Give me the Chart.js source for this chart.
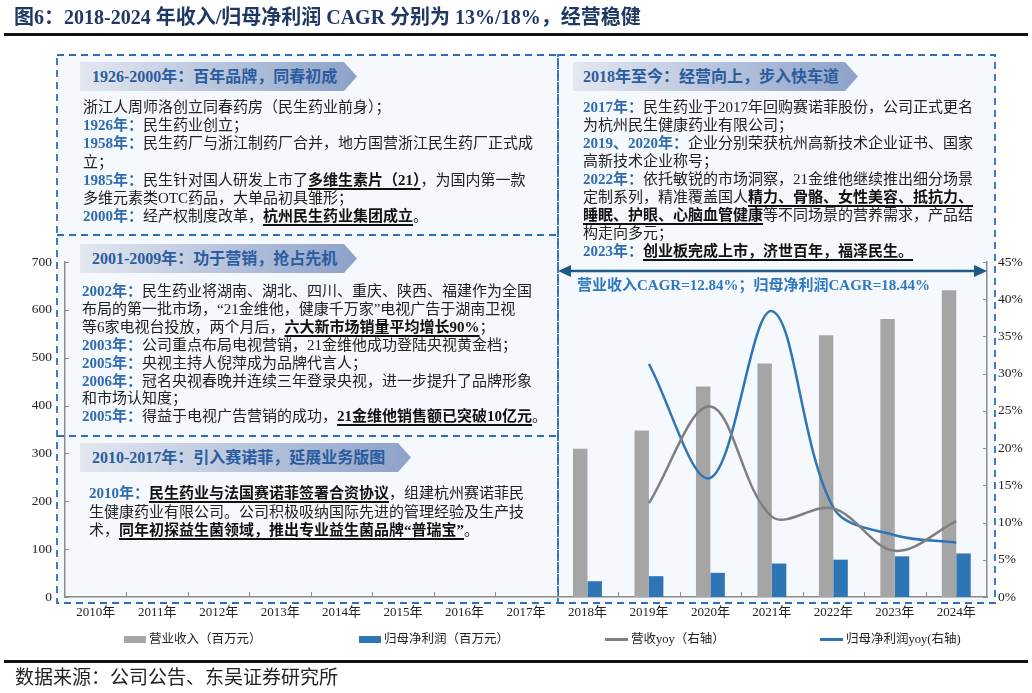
<!DOCTYPE html>
<html>
<head>
<meta charset="utf-8">
<script src="https://cdn.jsdelivr.net/npm/chart.js@4.4.1/dist/chart.umd.min.js"></script>
<style>
  body { margin: 0; background: #fff; width: 1032px; height: 693px; position: relative; overflow: hidden;
         font-family: "Liberation Serif", "Noto Sans CJK SC", serif; color: #222; }
  #boxes, #chart, #over { position: absolute; left: 0; top: 0; }
  #chart { z-index: 1; }
  #boxes { z-index: 0; }
  #over { z-index: 2; pointer-events: none; }
  .title { position: absolute; left: 14px; top: 4px; font-size: 20px; font-weight: bold; color: #1f3864;
           white-space: nowrap; line-height: 26px; z-index: 2; }
  .rule { position: absolute; left: 4px; width: 1024px; height: 3px; background: #111; z-index: 2; }
  .banner { position: absolute; height: 29px; line-height: 29px; z-index: 2;
            background: linear-gradient(90deg, #e3e7f0, #8da2c9);
            clip-path: polygon(0 0, calc(100% - 13px) 0, 100% 50%, calc(100% - 13px) 100%, 0 100%);
            color: #2a5c9e; font-weight: bold; font-size: 16px; padding-left: 12px; box-sizing: border-box; white-space: nowrap; }
  .txt { position: absolute; font-size: 15px; line-height: 18.2px; white-space: nowrap; color: #222; z-index: 2; }
  .txt b { color: #2e6bb0; }
  .txt u { font-weight: bold; color: #111; text-decoration-thickness: 1.5px; text-underline-offset: 3px; }
  .cagr { position: absolute; left: 577px; top: 276px; font-size: 15px; font-weight: bold; color: #2f78be;
          white-space: nowrap; line-height: 18px; z-index: 2; }
  .leg { position: absolute; top: 631px; height: 16px; line-height: 16px; font-size: 12.5px; white-space: nowrap; z-index: 2; color: #222; }
  .leg i { display: inline-block; vertical-align: middle; margin-right: 3px; position: relative; top: -1px; }
  .source { position: absolute; left: 15px; top: 666px; font-size: 19px; line-height: 24px; white-space: nowrap; color: #222; z-index: 2; }
</style>
</head>
<body>

<svg id="boxes" width="1032" height="693">
  <rect x="57" y="55" width="501" height="548" fill="#f5f9fd" />
  <rect x="558" y="55" width="437" height="548" fill="#f5f9fd" />
  <g fill="none" stroke="#2f6eb5" stroke-width="1.8" stroke-dasharray="7 5">
    <rect x="57" y="55" width="501" height="548" />
    <rect x="558" y="55" width="437" height="548" />
    <line x1="57" y1="235" x2="558" y2="235" />
    <line x1="57" y1="436" x2="558" y2="436" />
  </g>
</svg>

<canvas id="chart" width="1032" height="693"></canvas>

<svg id="over" width="1032" height="693">
  <g stroke="#1d5a86" stroke-width="2.5" fill="#1d5a86">
    <line x1="566" y1="271" x2="979" y2="271" />
    <polygon points="558,271 571,265 571,277" stroke="none" />
    <polygon points="987,271 974,265 974,277" stroke="none" />
  </g>
</svg>

<div class="title">图6：2018-2024 年收入/归母净利润 CAGR 分别为 13%/18%，经营稳健</div>
<div class="rule" style="top:33px"></div>

<div class="banner" style="left:80px;top:62px;width:277px">1926-2000年：百年品牌，同春初成</div>
<div class="txt" style="left:83px;top:98px">
浙江人周师洛创立同春药房（民生药业前身）；<br>
<b>1926年：</b>民生药业创立；<br>
<b>1958年：</b>民生药厂与浙江制药厂合并，地方国营浙江民生药厂正式成<br>
立；<br>
<b>1985年：</b>民生针对国人研发上市了<u>多维生素片（21）</u>，为国内第一款<br>
多维元素类OTC药品，大单品初具雏形；<br>
<b>2000年：</b>经产权制度改革，<u>杭州民生药业集团成立</u>。
</div>

<div class="banner" style="left:80px;top:244px;width:277px">2001-2009年：功于营销，抢占先机</div>
<div class="txt" style="left:82px;top:283px;line-height:17.9px">
<b>2002年：</b>民生药业将湖南、湖北、四川、重庆、陕西、福建作为全国<br>
布局的第一批市场，“21金维他，健康千万家”电视广告于湖南卫视<br>
等6家电视台投放，两个月后，<u>六大新市场销量平均增长90%</u>；<br>
<b>2003年：</b>公司重点布局电视营销，21金维他成功登陆央视黄金档；<br>
<b>2005年：</b>央视主持人倪萍成为品牌代言人；<br>
<b>2006年：</b>冠名央视春晚并连续三年登录央视，进一步提升了品牌形象<br>
和市场认知度；<br>
<b>2005年：</b>得益于电视广告营销的成功，<u>21金维他销售额已突破10亿元</u>。
</div>

<div class="banner" style="left:80px;top:443px;width:331px">2010-2017年：引入赛诺菲，延展业务版图</div>
<div class="txt" style="left:89px;top:484px;line-height:18.5px">
<b>2010年：</b><u>民生药业与法国赛诺菲签署合资协议</u>，组建杭州赛诺菲民<br>
生健康药业有限公司。公司积极吸纳国际先进的管理经验及生产技<br>
术，<u>同年初探益生菌领域，推出专业益生菌品牌“普瑞宝”</u>。
</div>

<div class="banner" style="left:573px;top:62px;width:285px;padding-left:10px">2018年至今：经营向上，步入快车道</div>
<div class="txt" style="left:583px;top:98px;line-height:18px">
<b>2017年：</b>民生药业于2017年回购赛诺菲股份，公司正式更名<br>
为杭州民生健康药业有限公司；<br>
<b>2019、2020年：</b>企业分别荣获杭州高新技术企业证书、国家<br>
高新技术企业称号；<br>
<b>2022年：</b>依托敏锐的市场洞察，21金维他继续推出细分场景<br>
定制系列，精准覆盖国人<u>精力、骨骼、女性美容、抵抗力、</u><br>
<u>睡眠、护眼、心脑血管健康</u>等不同场景的营养需求，产品结<br>
构走向多元；<br>
<b>2023年：</b><u>创业板完成上市，济世百年，福泽民生。</u>
</div>

<div class="cagr">营业收入CAGR=12.84%；归母净利润CAGR=18.44%</div>

<div class="leg" style="left:124px"><i style="width:22px;height:7px;background:#a5a5a5"></i>营业收入（百万元）</div>
<div class="leg" style="left:359px"><i style="width:22px;height:7px;background:#2e75b6"></i>归母净利润（百万元）</div>
<div class="leg" style="left:605px"><i style="width:23px;height:3px;background:#7f7f7f"></i>营收yoy（右轴）</div>
<div class="leg" style="left:820px"><i style="width:23px;height:3px;background:#2e75b6"></i>归母净利润yoy(右轴)</div>

<div class="rule" style="top:660px"></div>
<div class="source">数据来源：公司公告、东吴证券研究所</div>

<script>
// categories
const years = ['2010年', '2011年', '2012年', '2013年', '2014年', '2015年', '2016年', '2017年',
               '2018年', '2019年', '2020年', '2021年', '2022年', '2023年', '2024年'];

// 营业收入（百万元）, bars only from 2018
const revenue = [null, null, null, null, null, null, null, null, 310, 348, 440, 488, 547, 581, 641];
// 归母净利润（百万元）
const netProfit = [null, null, null, null, null, null, null, null, 33, 43.5, 50.5, 70, 78, 85, 91];
// 营收yoy（%，右轴）
const revenueYoy = [null, null, null, null, null, null, null, null, null, 12.6, 25.6, 10.8, 11.9, 6.2, 10.2];
// 归母净利润yoy（%，右轴）
const profitYoy = [null, null, null, null, null, null, null, null, null, 31.3, 16.0, 38.4, 12.0, 8.3, 7.3];

const leftMax = 700, leftStep = 100;
const rightMax = 45, rightStep = 5;

const axisColor = '#8c8c8c';

// tick marks pointing into the plot, like the original
const inwardTicks = {
  id: 'inwardTicks',
  afterDatasetsDraw(chart) {
    const { ctx, chartArea: a, scales } = chart;
    ctx.save();
    ctx.strokeStyle = axisColor;
    ctx.lineWidth = 1;
    ctx.beginPath();
    scales.y.ticks.forEach(t => {
      const y = Math.round(scales.y.getPixelForValue(t.value)) + 0.5;
      ctx.moveTo(a.left, y); ctx.lineTo(a.left + 4, y);
    });
    scales.y1.ticks.forEach(t => {
      const y = Math.round(scales.y1.getPixelForValue(t.value)) + 0.5;
      ctx.moveTo(a.right - 4, y); ctx.lineTo(a.right, y);
    });
    for (let i = 1; i < years.length; i++) {
      const px = Math.round((scales.x.getPixelForValue(i - 1) + scales.x.getPixelForValue(i)) / 2) + 0.5;
      ctx.moveTo(px, a.bottom); ctx.lineTo(px, a.bottom - 5);
    }
    ctx.stroke();
    ctx.restore();
  }
};

Chart.defaults.font.family = '"Liberation Serif", "Noto Sans CJK SC", serif';
Chart.defaults.color = '#222';

new Chart(document.getElementById('chart').getContext('2d'), {
  type: 'bar',
  data: {
    labels: years,
    datasets: [
      { type: 'line', label: '营收yoy（右轴）', data: revenueYoy, yAxisID: 'y1', order: 1,
        borderColor: '#7f7f7f', borderWidth: 2.5, pointRadius: 0, tension: 0.35, fill: false },
      { type: 'line', label: '归母净利润yoy(右轴)', data: profitYoy, yAxisID: 'y1', order: 1,
        borderColor: '#2e75b6', borderWidth: 2.5, pointRadius: 0, tension: 0.35, fill: false },
      { label: '营业收入（百万元）', data: revenue, yAxisID: 'y', order: 2,
        backgroundColor: '#a5a5a5', categoryPercentage: 0.47, barPercentage: 1 },
      { label: '归母净利润（百万元）', data: netProfit, yAxisID: 'y', order: 2,
        backgroundColor: '#2e75b6', categoryPercentage: 0.47, barPercentage: 1 }
    ]
  },
  options: {
    responsive: false,
    animation: false,
    layout: { padding: { left: 0, right: 0, top: 262, bottom: 66 } },
    plugins: { legend: { display: false }, tooltip: { enabled: false } },
    scales: {
      x: {
        grid: { display: false, drawTicks: false },
        border: { display: true, color: axisColor, width: 1.5 },
        ticks: { padding: 8, font: { size: 13 }, maxRotation: 0, autoSkip: false },
        afterFit(scale) { scale.height = 30; }
      },
      y: {
        position: 'left', min: 0, max: leftMax,
        grid: { display: false, drawTicks: false },
        border: { display: true, color: axisColor, width: 1.5 },
        ticks: { stepSize: leftStep, padding: 13, font: { size: 13.5 } },
        afterFit(scale) { scale.width = 65; }
      },
      y1: {
        position: 'right', min: 0, max: rightMax,
        grid: { display: false, drawTicks: false },
        border: { display: true, color: axisColor, width: 1.5 },
        ticks: { stepSize: rightStep, padding: 11, font: { size: 13.5 }, callback: v => v + '%' },
        afterFit(scale) { scale.width = 45; }
      }
    }
  },
  plugins: [inwardTicks]
});
</script>
</body>
</html>
